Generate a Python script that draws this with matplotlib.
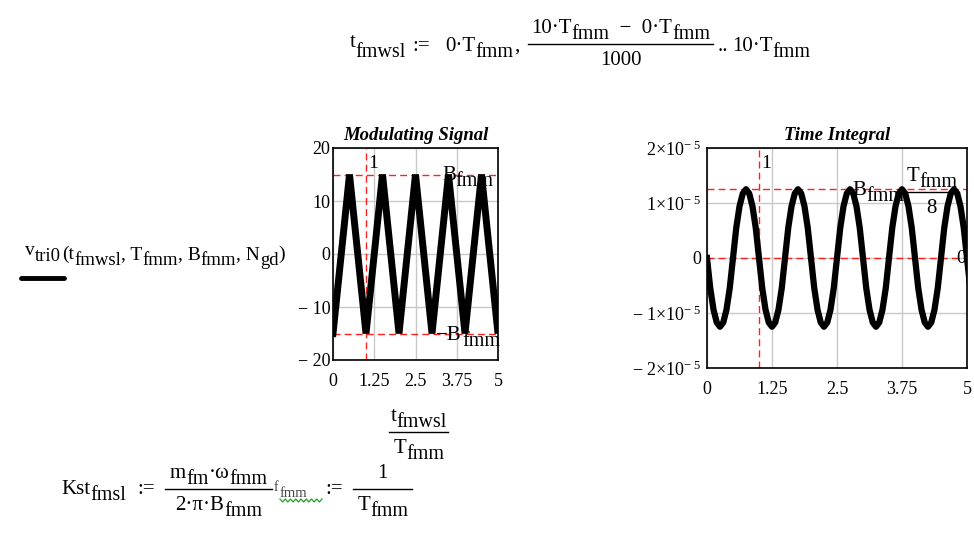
import numpy as np
import matplotlib.pyplot as plt
from matplotlib.lines import Line2D

plt.rcParams['font.family'] = ['Liberation Serif', 'DejaVu Serif']
plt.rcParams['mathtext.fontset'] = 'custom'
plt.rcParams['mathtext.rm'] = 'Liberation Serif'
plt.rcParams['mathtext.it'] = 'Liberation Serif:italic'

W, H = 974, 547

# modulating signal: triangle corners, x in t/T units
tri_x = [0, 0.5, 1, 1.5, 2, 2.5, 3, 3.5, 4, 4.5, 5, 5.5]
tri_y = [-15, 15, -15, 15, -15, 15, -15, 15, -15, 15, -15, 15]
b_level = 15
mark_x = 1

# time integral, sampled every 1/16 period, values in 1e-5
integ_step = 0.0625
integ_y = [0, -0.547, -0.938, -1.172, -1.25, -1.172, -0.938, -0.547,
           0, 0.547, 0.938, 1.172, 1.25, 1.172, 0.938, 0.547,
           0, -0.547, -0.938, -1.172, -1.25, -1.172, -0.938, -0.547,
           0, 0.547, 0.938, 1.172, 1.25, 1.172, 0.938, 0.547,
           0, -0.547, -0.938, -1.172, -1.25, -1.172, -0.938, -0.547,
           0, 0.547, 0.938, 1.172, 1.25, 1.172, 0.938, 0.547,
           0, -0.547, -0.938, -1.172, -1.25, -1.172, -0.938, -0.547,
           0, 0.547, 0.938, 1.172, 1.25, 1.172, 0.938, 0.547,
           0, -0.547, -0.938, -1.172, -1.25, -1.172, -0.938, -0.547,
           0, 0.547, 0.938, 1.172, 1.25, 1.172, 0.938, 0.547,
           0, -0.547, -0.938, -1.172, -1.25]
integ_peak = 1.25e-5

x_ticks = [0, 1.25, 2.5, 3.75, 5]
x_tick_labels = ['0', '1.25', '2.5', '3.75', '5']
left_y_ticks = [-20, -10, 0, 10, 20]
left_y_labels = ['\u2212 20', '\u2212 10', '0', '10', '20']
right_y_ticks = [-2e-5, -1e-5, 0, 1e-5, 2e-5]
right_y_labels = [r'$-\ 2{\times}10^{-\ 5}$', r'$-\ 1{\times}10^{-\ 5}$', '0',
                  r'$1{\times}10^{-\ 5}$', r'$2{\times}10^{-\ 5}$']

FS, SFS, DROP = 15, 14.5, 6

fig = plt.figure(figsize=(W / 100, H / 100), dpi=100)
rend = fig.canvas.get_renderer()


def box(l, t, r, b):
    return [l / W, 1 - b / H, (r - l) / W, (b - t) / H]


def tw(s, fs):
    t = fig.text(0, 0, '|' + s + '|', fontsize=fs)
    w = t.get_window_extent(rend).width
    t.set_text('||')
    w -= t.get_window_extent(rend).width
    t.remove()
    return w


def run(x, y, parts, draw=True, fs=FS, sfs=SFS, **kw):
    # parts starting with '_' are Mathcad-style subscripts
    for p in parts:
        sub = p.startswith('_')
        s = p[1:] if sub else p
        size = sfs if sub else fs
        if draw:
            fig.text(x / W, 1 - (y + (DROP if sub else 0)) / H, s, fontsize=size,
                     va='baseline', ha='left', **kw)
        x += tw(s, size)
    return x


def hline(x0, x1, y, **kw):
    fig.add_artist(Line2D([x0 / W, x1 / W], [1 - y / H, 1 - y / H], **kw))


def frac(x, ybar, num, den, width=None):
    wn = run(0, 0, num, draw=False)
    wd = run(0, 0, den, draw=False)
    w = width or max(wn, wd) + 4
    run(x + (w - wn) / 2, ybar - 11, num)
    run(x + (w - wd) / 2, ybar + 21, den)
    hline(x, x + w, ybar, color='black', lw=1.0)
    return x + w


def to_px(ax, x, y):
    dx, dy = ax.transData.transform((x, y))
    return dx, H - dy


def style_axes(ax, ypad):
    for sp in ax.spines.values():
        sp.set_color('black')
        sp.set_linewidth(1.2)
    ax.grid(True, color='#c8c8c8', lw=1)
    ax.set_axisbelow(True)
    ax.tick_params(length=0, labelsize=13, colors='black')
    ax.tick_params(axis='x', pad=9)
    ax.tick_params(axis='y', pad=ypad)


red = dict(color='#ff2020', lw=1.0, ls=(0, (5, 3)), zorder=2)

# left chart
ax1 = fig.add_axes(box(333, 148, 498, 360))
ax1.axhline(b_level, **red)
ax1.axhline(-b_level, **red)
ax1.axvline(mark_x, **red)
ax1.plot(tri_x, tri_y, color='black', lw=5, solid_joinstyle='bevel', zorder=3)
ax1.set_xlim(0, 5)
ax1.set_ylim(-20, 20)
ax1.set_xticks(x_ticks)
ax1.set_xticklabels(x_tick_labels)
ax1.set_yticks(left_y_ticks)
ax1.set_yticklabels(left_y_labels)
style_axes(ax1, 2)
ax1.set_title('Modulating Signal', fontsize=13.5, fontweight='bold', style='italic', pad=6)

# right chart
integ_x = np.arange(len(integ_y)) * integ_step
ax2 = fig.add_axes(box(707, 148, 967, 368))
ax2.axhline(integ_peak, **red)
ax2.axhline(0, **red)
ax2.axvline(mark_x, **red)
ax2.plot(integ_x, np.array(integ_y) * 1e-5, color='black', lw=4.5, zorder=3)
ax2.set_xlim(0, 5)
ax2.set_ylim(-2e-5, 2e-5)
ax2.set_xticks(x_ticks)
ax2.set_xticklabels(x_tick_labels)
ax2.set_yticks(right_y_ticks)
ax2.set_yticklabels(right_y_labels)
style_axes(ax2, 4)
ax2.set_title('Time Integral', fontsize=13.5, fontweight='bold', style='italic', pad=6)

# marker labels
px, py = to_px(ax1, mark_x, 20)
run(px + 2, py + 20, ['1'], fs=14)
px, py = to_px(ax1, 3.3, b_level)
run(px, py + 5, ['B', '_fmm'])
px, py = to_px(ax1, 3.13, -b_level)
run(px, py + 6, ['\u2212B', '_fmm'])
px, py = to_px(ax2, mark_x, 2e-5)
run(px + 2, py + 20, ['1'], fs=14)
px, py = to_px(ax2, 2.8, integ_peak)
x_end = run(px, py + 6, ['B', '_fmm'])
frac(x_end, py + 3, ['T', '_fmm'], ['8'])
px, py = to_px(ax2, 4.8, 0)
run(px, py + 5, ['0'], fs=14)

# top range definition
run(350, 47, ['t'])
run(355, 51, ['_fmwsl'])
run(412, 51, [':='])
x = run(445, 51, ['0\u00b7T', '_fmm'])
run(x + 1, 51, [','])
frac(528, 44, ['10\u00b7T', '_fmm', '  \u2212  0\u00b7T', '_fmm'], ['1000'], width=185)
run(718, 51, ['..'])
run(732, 51, ['10\u00b7T', '_fmm'])

# y axis label of the left plot
run(25, 255, ['v', '_tri0'], fs=14, sfs=13.5)
run(62, 259, ['(t', '_fmwsl', ', T', '_fmm', ', B', '_fmm', ', N', '_gd', ')'], fs=14, sfs=13.5)
fig.add_artist(Line2D([21 / W, 64 / W], [1 - 278 / H, 1 - 278 / H], color='black', lw=3.5,
                      solid_capstyle='round'))

# x axis label of the left plot
frac(389, 432, ['t', '_fmwsl'], ['T', '_fmm'], width=59)

# bottom definitions
run(61, 494, ['Kst', '_fmsl'])
run(137, 494, [':='])
frac(165, 489, ['m', '_fm', '\u00b7\u03c9', '_fmm'], ['2\u00b7\u03c0\u00b7B', '_fmm'], width=107)
fig.text(274 / W, 1 - 491 / H, 'f', fontsize=10, va='baseline', color='#444444')
fig.text(280 / W, 1 - 497 / H, 'fmm', fontsize=10.5, va='baseline', color='#444444')
zig_x = np.linspace(280, 322, 17)
zig_y = [499, 502] * 8 + [499]
fig.add_artist(Line2D(zig_x / W, 1 - np.array(zig_y) / H, color='#22a022', lw=0.9))
run(325, 494, [':='])
frac(353, 489, ['1'], ['T', '_fmm'], width=59)

fig.savefig('out.png', dpi=100)
